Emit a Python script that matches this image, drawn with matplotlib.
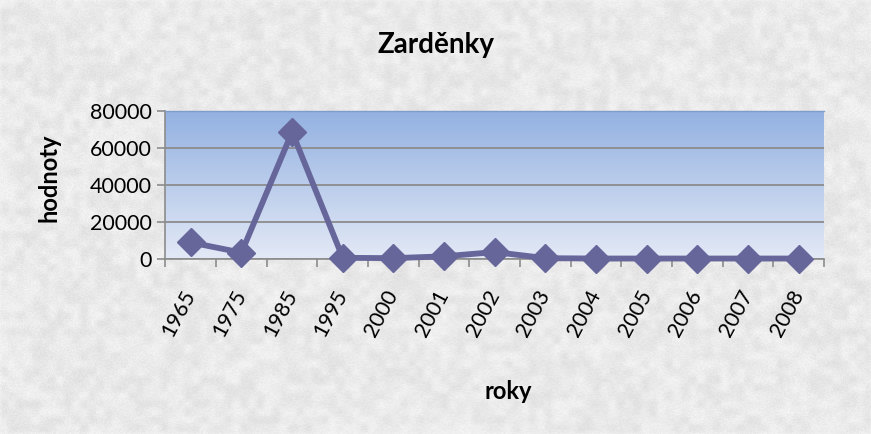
import numpy as np
import matplotlib
matplotlib.use("Agg")
import matplotlib.pyplot as plt
from matplotlib.colors import LinearSegmentedColormap

# ---- data ----
years = ['1965', '1975', '1985', '1995', '2000', '2001', '2002',
         '2003', '2004', '2005', '2006', '2007', '2008']
values = [9000, 3500, 68700, 700, 500, 1500, 3800, 500, 300, 300, 300, 300, 300]
yticks = [0, 20000, 40000, 60000, 80000]

line_col = '#66669B'
font = ['Lato', 'DejaVu Sans']
plt.rcParams['font.family'] = font

fig = plt.figure(figsize=(8.71, 4.34), dpi=100)

# grey marbled background (decoration only)
rng = np.random.default_rng(3)
coarse = rng.random((60, 120))
tex = np.kron(coarse, np.ones((8, 8)))[:434, :871]
fine = rng.random((434, 871))
k = np.ones(5) / 5
for _ in range(2):
    tex = np.apply_along_axis(lambda r: np.convolve(r, k, mode='same'), 1, tex)
    tex = np.apply_along_axis(lambda c: np.convolve(c, k, mode='same'), 0, tex)
tex = 0.6 * tex + 0.4 * fine
tex = 0.965 - 0.10 * (tex - tex.min()) / (tex.max() - tex.min())
bg = fig.add_axes([0, 0, 1, 1], zorder=-5)
bg.imshow(tex, cmap='gray', vmin=0, vmax=1, aspect='auto', interpolation='bilinear')
bg.axis('off')

ax = fig.add_axes([0.190, 0.403, 0.756, 0.341])
ax.patch.set_alpha(0)

# gradient fill of plot area
grad = LinearSegmentedColormap.from_list('g', ['#E3E9F6', '#93B1E1'])
ax.imshow(np.linspace(0, 1, 256).reshape(-1, 1)[::-1], cmap=grad, aspect='auto',
          extent=[0, 1, 0, 1], transform=ax.transAxes, zorder=0)

x = np.arange(len(years))
ax.plot(x, values, color=line_col, lw=4.2, marker='D', markersize=14,
        zorder=3, clip_on=False)

ax.set_xlim(-0.5, len(years) - 0.5)
ax.set_ylim(0, 80000)
ax.set_yticks(yticks)
ax.set_yticklabels([str(v) for v in yticks], fontsize=15.5)
ax.yaxis.grid(True, color='#8C8C8C', lw=1.3, zorder=1)
ax.set_axisbelow(True)

ax.set_xticks(x)
ax.set_xticklabels(years, rotation=62, ha='right', va='center', fontsize=15.5,
                   rotation_mode='anchor')
ax.set_xticks(np.arange(-0.5, len(years)), minor=True)
ax.tick_params(axis='x', which='major', length=0, pad=23)
ax.tick_params(axis='x', which='minor', length=6, color='#8C8C8C', width=1.2)
ax.tick_params(axis='y', length=6, color='#8C8C8C', width=1.2, pad=4)

ax.spines['right'].set_visible(False)
ax.spines['top'].set_color('#7F9CCB')
ax.spines['top'].set_linewidth(1.0)
ax.spines['left'].set_color('#8C8C8C')
ax.spines['bottom'].set_color('#8C8C8C')
ax.spines['left'].set_linewidth(1.2)
ax.spines['bottom'].set_linewidth(1.2)

fig.text(0.501, 0.897, 'Zarděnky', ha='center', va='center', fontsize=20,
         fontweight='bold')
fig.text(0.056, 0.590, 'hodnoty', ha='center', va='center', fontsize=17,
         fontweight='bold', rotation=90)
fig.text(0.584, 0.097, 'roky', ha='center', va='center', fontsize=17,
         fontweight='bold')

fig.savefig('out.png', dpi=100)
